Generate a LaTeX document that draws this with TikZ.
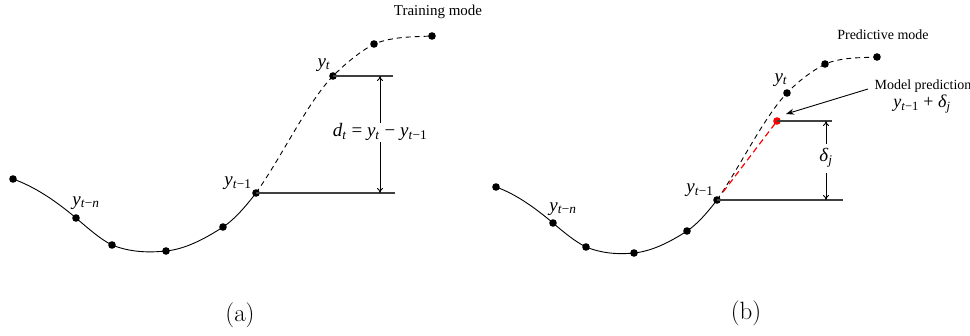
\documentclass[tikz,border=0pt]{standalone}
\usepackage{fontspec}
\newfontfamily\tms{Liberation Serif}
\usetikzlibrary{arrows.meta,calc}
\newcommand{\iv}[1]{\textit{#1}}
\newcommand{\sbs}[1]{\textsubscript{#1}}
\begin{document}
\begin{tikzpicture}[x=1pt,y=-1pt,
  dot/.style={circle,fill=black,inner sep=0pt,minimum size=7.6pt},
  rdot/.style={circle,fill=red,inner sep=0pt,minimum size=7.6pt},
  curve/.style={line width=0.9pt},
  dcurve/.style={line width=0.9pt,dash pattern=on 5pt off 4pt},
  hline/.style={line width=1.1pt,black!75},
  dimarrow/.style={line width=0.9pt,{To[length=5pt,width=6pt]}-{To[length=5pt,width=6pt]}},
  lab/.style={font=\tms\fontsize{19}{21}\selectfont,inner sep=1pt},
  txt/.style={font=\tms\fontsize{14}{16}\selectfont,inner sep=0pt},
  captxt/.style={font=\fontsize{25}{28}\selectfont,inner sep=0pt}]
\useasboundingbox (0,0) rectangle (970,335);
% ---------- panel (a)
\coordinate (a1) at (13,179);
\coordinate (a2) at (76,218);
\coordinate (a3) at (112,245);
\coordinate (a4) at (166,251);
\coordinate (a5) at (223,227);
\coordinate (a6) at (256,193);
\coordinate (a7) at (333,76);
\coordinate (a8) at (374,44);
\coordinate (a9) at (432,36);
\draw[curve] (a1) .. controls (34,186.4) and (55,200.2) .. (a2)
  .. controls (88,228.2) and (100,239) .. (a3)
  .. controls (130,252.2) and (148,252.8) .. (a4)
  .. controls (185,249.1) and (204,239.4) .. (a5)
  .. controls (234,219.9) and (245,207.3) .. (a6);
\draw[dcurve] (a6) .. controls (281.7,157.0) and (307.3,102.5) .. (a7)
  .. controls (346.7,62.3) and (360.3,51.5) .. (a8)
  .. controls (393.3,36.3) and (412.7,37) .. (a9);
\foreach \p in {a1,a2,a3,a4,a5,a6,a7,a8,a9} \node[dot] (d\p) at (\p) {};
\coordinate (ae1) at (393,76);
\coordinate (ae2) at (395,193);
\draw[hline] (a7) -- (ae1);
\draw[hline] (a6) -- (ae2);
\coordinate (at1) at (380,76);
\coordinate (at2) at (380,193);
\draw[dimarrow] (at1) -- node[lab,fill=white,pos=0.48] (dt) {\iv{d}\sbs{\iv{t}} = \iv{y}\sbs{\iv{t}} − \iv{y}\sbs{\iv{t}−1}} (at2);
\node[lab] (la7) at (324,65) {\iv{y}\sbs{\iv{t}}};
\node[lab] (la6) at (238,183) {\iv{y}\sbs{\iv{t}−1}};
\node[lab] (la2) at (86,203) {\iv{y}\sbs{\iv{t}−\iv{n}}};
\node[txt,font=\tms\fontsize{15}{17}\selectfont] (tm) at (438,12) {Training mode};
\node[captxt] (ca) at (240,315) {(a)};
% ---------- panel (b)
\coordinate (b1) at (496,187);
\coordinate (b2) at (553,223);
\coordinate (b3) at (586,247);
\coordinate (b4) at (634,253);
\coordinate (b5) at (687,231);
\coordinate (b6) at (717,200);
\coordinate (b7) at (787,93);
\coordinate (b8) at (825,64);
\coordinate (b9) at (877,57);
\coordinate (br) at (777,121);
\draw[curve] (b1) .. controls (515,193.7) and (534,206.9) .. (b2)
  .. controls (564,232.4) and (575,241.5) .. (b3)
  .. controls (602,253.4) and (618,254.6) .. (b4)
  .. controls (651.7,251.2) and (669.3,242.5) .. (b5)
  .. controls (697,224.5) and (707,213) .. (b6);
\draw[dcurve] (b6) .. controls (740.3,166.2) and (763.7,117.5) .. (b7)
  .. controls (799.7,79.7) and (812.3,71) .. (b8)
  .. controls (842.3,57.1) and (859.7,57.9) .. (b9);
\coordinate (brs) at ($(b6)!0.1!(br)$);
\draw[line width=1.2pt,red,dash pattern=on 6pt off 4pt] (brs) -- (br);
\foreach \p in {b1,b2,b3,b4,b5,b6,b7,b8,b9} \node[dot] (d\p) at (\p) {};
\node[rdot] (dbr) at (br) {};
\coordinate (be1) at (832,121);
\coordinate (be2) at (843,200);
\draw[hline] (br) -- (be1);
\draw[hline] (b6) -- (be2);
\coordinate (bt1) at (826,121);
\coordinate (bt2) at (826,200);
\draw[dimarrow] (bt1) -- node[lab,fill=white,pos=0.47,inner ysep=5pt] (dj) {\iv{δ}\sbs{\iv{j}}} (bt2);
\node[lab] (lb7) at (781,80) {\iv{y}\sbs{\iv{t}}};
\node[lab] (lb6) at (700,190) {\iv{y}\sbs{\iv{t}−1}};
\node[lab] (lb2) at (563,209) {\iv{y}\sbs{\iv{t}−\iv{n}}};
\node[txt,font=\tms\fontsize{14}{16}\selectfont] (pm) at (883,35) {Predictive mode};
\node[txt,font=\tms\fontsize{14}{16}\selectfont] (mp) at (923,86) {Model prediction};
\node[lab,font=\tms\fontsize{18}{20}\selectfont] (mpf) at (922,104) {\iv{y}\sbs{\iv{t}−1} + \iv{δ}\sbs{\iv{j}}};
\coordinate (ar1) at (868,89);
\coordinate (ar2) at (786,114);
\draw[line width=0.9pt,-{Stealth[length=8pt,width=6pt]}] (ar1) -- (ar2);
\node[captxt] (cb) at (746,313) {(b)};
\end{tikzpicture}
\end{document}
